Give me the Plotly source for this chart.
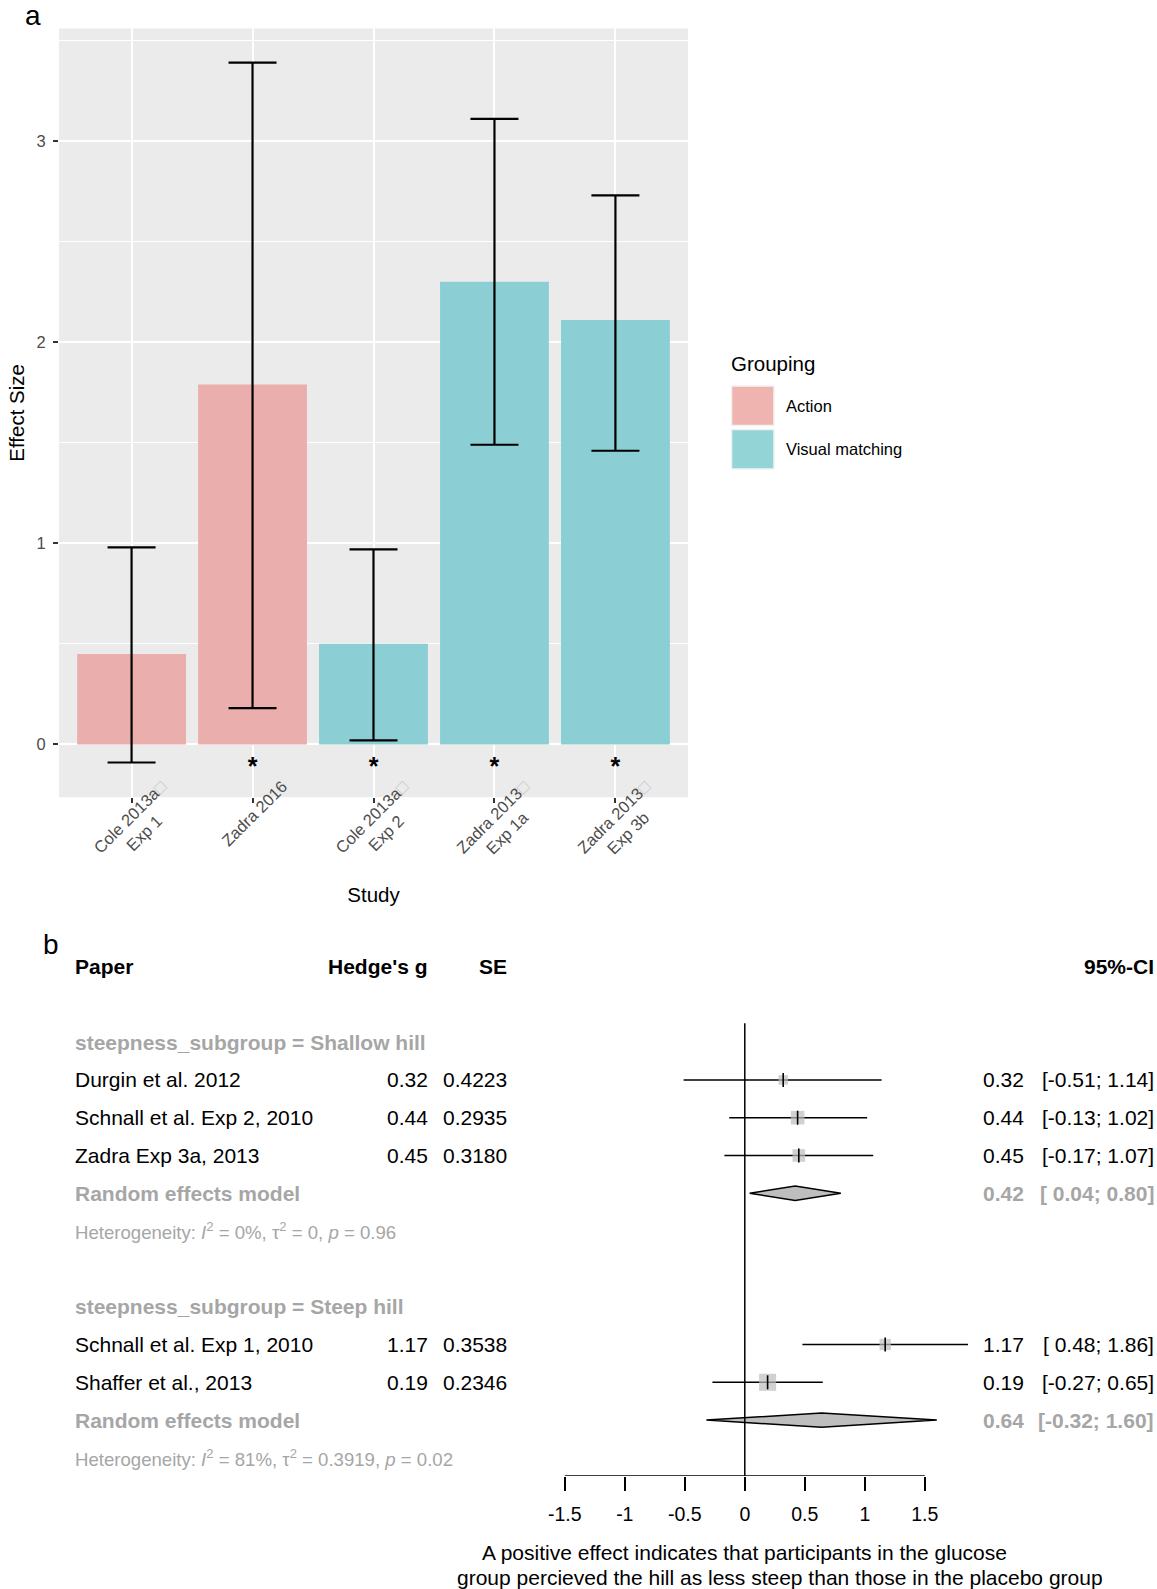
import plotly.graph_objects as go

W, H = 1157, 1589
FONT = "Liberation Sans, Arial, Helvetica, sans-serif"

# ---------------- Panel a data ----------------
study_ids = ["Cole 2013a Exp 1", "Zadra 2016", "Cole 2013a Exp 2", "Zadra 2013 Exp 1a", "Zadra 2013 Exp 3b"]
study_label_lines = [["Cole 2013a\u25a1", "Exp 1"], ["Zadra 2016"], ["Cole 2013a\u25a1", "Exp 2"],
                     ["Zadra 2013\u25a1", "Exp 1a"], ["Zadra 2013\u25a1", "Exp 3b"]]
effect_size = [0.45, 1.79, 0.50, 2.30, 2.11]
effect_lo = [-0.09, 0.18, 0.02, 1.49, 1.46]
effect_hi = [0.98, 3.39, 0.97, 3.11, 2.73]
grouping = ["Action", "Action", "Visual matching", "Visual matching", "Visual matching"]
significant = [False, True, True, True, True]
group_order = ["Action", "Visual matching"]
group_colors = {"Action": "#EAAFAC", "Visual matching": "#8BCFD4"}
legend_colors = {"Action": "#F0B4B0", "Visual matching": "#93D4D7"}

# ---------------- Panel b data ----------------
papers = ["Durgin et al. 2012", "Schnall et al. Exp 2, 2010", "Zadra Exp 3a, 2013",
          "Schnall et al. Exp 1, 2010", "Shaffer et al., 2013"]
subgroup = ["Shallow hill", "Shallow hill", "Shallow hill", "Steep hill", "Steep hill"]
hedges_g = [0.32, 0.44, 0.45, 1.17, 0.19]
se = [0.4223, 0.2935, 0.3180, 0.3538, 0.2346]
ci_lo = [-0.51, -0.13, -0.17, 0.48, -0.27]
ci_hi = [1.14, 1.02, 1.07, 1.86, 0.65]
subgroups = ["Shallow hill", "Steep hill"]
re_est = [0.42, 0.64]
re_lo = [0.04, -0.32]
re_hi = [0.80, 1.60]
het_i2 = ["0%", "81%"]
het_tau2 = ["0", "0.3919"]
het_p = ["0.96", "0.02"]
forest_ticks = [-1.5, -1, -0.5, 0, 0.5, 1, 1.5]
forest_ticktext = ["-1.5", "-1", "-0.5", "0", "0.5", "1", "1.5"]
caption_lines = ["A positive effect indicates that participants in the glucose",
                 "group percieved the hill as less steep than those in the placebo group"]

# ---------------- helpers ----------------
def px_x(p):
    return p / W

def px_y(p):
    return 1 - p / H

# approximate Arial advance widths (per 1000 em) to centre multi-line rotated labels
_AW = {' ': 278, 'E': 667, 'x': 500, 'p': 556, 'a': 556, 'b': 556, 'C': 722, 'o': 556,
       'l': 222, 'e': 556, 'Z': 611, 'd': 556, 'r': 333, '\u25a1': 780}

def _w(s):
    return sum(_AW.get(c, 556) for c in s)

def make_ticklabel(lines):
    if len(lines) == 1:
        return lines[0]
    first = lines[0].replace("\u25a1", "<span style='color:#C8C8C8'>\u25a1</span>")
    out = [first]
    w1 = _w(lines[0])
    for ln in lines[1:]:
        pad = int(round((w1 - _w(ln)) / 2 / 278))
        out.append(ln + "\u00a0" * pad)
    return "<br>".join(out)

fig = go.Figure()

# ---- Panel a bars ----
for g in group_order:
    idx = [i for i, gg in enumerate(grouping) if gg == g]
    fig.add_trace(go.Bar(
        x=[study_ids[i] for i in idx],
        y=[effect_size[i] for i in idx],
        width=0.9,
        marker=dict(color=group_colors[g], line=dict(width=0)),
        error_y=dict(type="data", symmetric=False,
                     array=[effect_hi[i] - effect_size[i] for i in idx],
                     arrayminus=[effect_size[i] - effect_lo[i] for i in idx],
                     color="black", thickness=2.2, width=24),
        name=g, showlegend=False, xaxis="x", yaxis="y",
    ))

sig_x = [s for s, f in zip(study_ids, significant) if f]
fig.add_trace(go.Scatter(
    x=sig_x, y=[-0.12] * len(sig_x), mode="text", text=["<b>*</b>"] * len(sig_x),
    textfont=dict(size=25, color="black", family=FONT), showlegend=False,
    xaxis="x", yaxis="y", hoverinfo="skip"))

# ---- Panel b forest ----
row_header = 0
rows_study = []
rows_re = []
rows_het = []
rows_head = []
r = 2
for k, sg in enumerate(subgroups):
    rows_head.append(r)
    r += 1
    for i, s in enumerate(subgroup):
        if s == sg:
            rows_study.append((i, r))
            r += 1
    rows_re.append(r)
    r += 1
    rows_het.append(r)
    r += 2

ROW0_PX = 966.5
ROW_PX = 37.8
AX_PX = 1476.0
TOP_PX = 929.0
ZERO_PX = 744.8
UNIT_PX = 120.0
X2_L, X2_R = 540.0, 1157.0

def row_of_px(p):
    return (p - ROW0_PX) / ROW_PX

# CI lines
lx, ly = [], []
for i, rr in rows_study:
    lx += [ci_lo[i], ci_hi[i], None]
    ly += [rr, rr, None]
fig.add_trace(go.Scatter(x=lx, y=ly, mode="lines", line=dict(color="black", width=1.5),
                         xaxis="x2", yaxis="y2", showlegend=False, hoverinfo="skip"))
# squares sized by inverse-variance weight
fig.add_trace(go.Scatter(
    x=[hedges_g[i] for i, _ in rows_study], y=[rr for _, rr in rows_study], mode="markers",
    marker=dict(symbol="square", size=[4.0 / se[i] for i, _ in rows_study], color="#BDBDBD",
                line=dict(width=0)),
    xaxis="x2", yaxis="y2", showlegend=False, hoverinfo="skip"))
fig.add_trace(go.Scatter(
    x=[hedges_g[i] for i, _ in rows_study], y=[rr for _, rr in rows_study], mode="markers",
    marker=dict(symbol="line-ns", size=10, line=dict(color="black", width=1.6)),
    xaxis="x2", yaxis="y2", showlegend=False, hoverinfo="skip"))
# diamonds
DH = 0.19
for k, rr in enumerate(rows_re):
    fig.add_trace(go.Scatter(
        x=[re_lo[k], re_est[k], re_hi[k], re_est[k], re_lo[k]],
        y=[rr, rr - DH, rr, rr + DH, rr],
        mode="lines", fill="toself", fillcolor="#BEBEBE",
        line=dict(color="black", width=1.5),
        xaxis="x2", yaxis="y2", showlegend=False, hoverinfo="skip"))

# ---- layout ----
A_L, A_R, A_T, A_B = 59.0, 688.0, 28.4, 797.3
y2_top = row_of_px(TOP_PX)
y2_bot = row_of_px(AX_PX)

fig.update_layout(
    width=W, height=H, margin=dict(l=0, r=0, t=0, b=0),
    paper_bgcolor="white", plot_bgcolor="white",
    font=dict(family=FONT, color="black"),
    barmode="overlay", showlegend=False,
    shapes=[
        dict(type="rect", xref="paper", yref="paper", x0=px_x(A_L), x1=px_x(A_R),
             y0=px_y(A_B), y1=px_y(A_T), fillcolor="#EBEBEB", line=dict(width=0), layer="below"),
    ],
    xaxis=dict(domain=[px_x(A_L), px_x(A_R)], anchor="y", type="category",
               categoryorder="array", categoryarray=study_ids,
               range=[-0.6, len(study_ids) - 0.4],
               tickmode="array", tickvals=study_ids,
               ticktext=[make_ticklabel(l) for l in study_label_lines],
               tickangle=-45, tickfont=dict(size=16.5, color="#4D4D4D", family=FONT),
               ticklabelshift=30, ticklabelstandoff=-33,
               ticks="outside", ticklen=5, tickwidth=1.5, tickcolor="#333333",
               showgrid=True, gridcolor="white", gridwidth=1.6, showline=False, zeroline=False,
               title=dict(text="Study", font=dict(size=20.5, color="black", family=FONT), standoff=16)),
    yaxis=dict(domain=[px_y(A_B), px_y(A_T)], anchor="x",
               range=[-0.263, 3.56], tickmode="array", tickvals=[0, 1, 2, 3],
               tickfont=dict(size=16.5, color="#4D4D4D", family=FONT), ticklabelstandoff=4,
               ticks="outside", ticklen=5, tickwidth=1.5, tickcolor="#333333",
               showgrid=True, gridcolor="white", gridwidth=1.6, zeroline=False, showline=False,
               minor=dict(tickvals=[0.5, 1.5, 2.5, 3.5], showgrid=True, gridcolor="white", gridwidth=0.8, ticks=""),
               title=dict(text="Effect Size", font=dict(size=20.5, color="black", family=FONT), standoff=6)),
    xaxis2=dict(domain=[px_x(X2_L), px_x(X2_R)], anchor="y2",
                range=[(X2_L - ZERO_PX) / UNIT_PX, (X2_R - ZERO_PX) / UNIT_PX],
                tickmode="array", tickvals=forest_ticks, ticktext=forest_ticktext,
                ticks="outside", ticklen=14, tickwidth=1.5, tickcolor="black",
                tickfont=dict(size=19.5, color="black", family=FONT), ticklabelstandoff=7,
                showgrid=False, zeroline=False, showline=False),
    yaxis2=dict(domain=[px_y(AX_PX), px_y(TOP_PX)], anchor="x2",
                range=[y2_bot, y2_top], showticklabels=False, ticks="",
                showgrid=False, zeroline=False, showline=False),
)

# forest axis line and zero line
fig.add_shape(type="line", xref="x2", yref="y2", x0=min(forest_ticks), x1=max(forest_ticks),
              y0=y2_bot, y1=y2_bot, line=dict(color="black", width=1.5))
fig.add_shape(type="line", xref="x2", yref="y2", x0=0, x1=0, y0=1.5, y1=y2_bot,
              line=dict(color="black", width=1.5))

# ---- legend (custom, ggplot-style large keys) ----
LEG_X0, LEG_X1 = 731.5, 774.0
key_tops = [385.0, 428.5]
KEY_H = 41.5
fig.add_annotation(xref="paper", yref="paper", x=px_x(729), y=px_y(363), text="Grouping",
                   showarrow=False, xanchor="left", yanchor="middle",
                   font=dict(size=20.5, color="black", family=FONT))
for g, top in zip(group_order, key_tops):
    fig.add_shape(type="rect", xref="paper", yref="paper", x0=px_x(LEG_X0), x1=px_x(LEG_X1),
                  y0=px_y(top + KEY_H - 1), y1=px_y(top + 1), fillcolor=legend_colors[g],
                  line=dict(color="#F2F2F2", width=1.5))
    fig.add_annotation(xref="paper", yref="paper", x=px_x(784), y=px_y(top + KEY_H / 2),
                       text=g, showarrow=False, xanchor="left", yanchor="middle",
                       font=dict(size=16.5, color="black", family=FONT))

# panel labels
fig.add_annotation(xref="paper", yref="paper", x=px_x(33), y=px_y(16), text="a", showarrow=False,
                   xanchor="center", yanchor="middle", font=dict(size=28, color="black", family=FONT))
fig.add_annotation(xref="paper", yref="paper", x=px_x(51), y=px_y(944), text="b", showarrow=False,
                   xanchor="center", yanchor="middle", font=dict(size=28, color="black", family=FONT))

# ---- forest table text ----
TXT = 21
GREY = "#A6A6A6"
X_NAME, X_G, X_SE, X_EST, X_CI = 73, 430, 509, 1026, 1156

def txt(x, row, s, anchor="left", size=TXT, color="black", bold=False):
    if bold:
        s = "<b>" + s + "</b>"
    fig.add_annotation(xref="paper", yref="y2", x=px_x(x), y=row, text=s, showarrow=False,
                       xanchor=anchor, yanchor="middle", font=dict(size=size, color=color, family=FONT))

txt(X_NAME, row_header, "Paper", bold=True)
txt(X_G, row_header, "Hedge's g", anchor="right", bold=True)
txt(X_SE, row_header, "SE", anchor="right", bold=True)
txt(X_CI, row_header, "95%-CI", anchor="right", bold=True)

for k, sg in enumerate(subgroups):
    txt(X_NAME, rows_head[k], "steepness_subgroup = " + sg, color=GREY, bold=True)
    txt(X_NAME, rows_re[k], "Random effects model", color=GREY, bold=True)
    txt(X_EST, rows_re[k], f"{re_est[k]:.2f}", anchor="right", color=GREY, bold=True)
    txt(X_CI, rows_re[k], f"[{re_lo[k]:5.2f}; {re_hi[k]:.2f}]", anchor="right", color=GREY, bold=True)
    het = (f"Heterogeneity: <i>I</i><sup>2</sup> = {het_i2[k]}, \u03c4<sup>2</sup> = {het_tau2[k]}, "
           f"<i>p</i> = {het_p[k]}")
    txt(X_NAME, rows_het[k], het, size=18.6, color=GREY)

for i, rr in rows_study:
    txt(X_NAME, rr, papers[i])
    txt(X_G, rr, f"{hedges_g[i]:.2f}", anchor="right")
    txt(X_SE, rr, f"{se[i]:.4f}", anchor="right")
    txt(X_EST, rr, f"{hedges_g[i]:.2f}", anchor="right")
    txt(X_CI, rr, f"[{ci_lo[i]:5.2f}; {ci_hi[i]:.2f}]", anchor="right")

# caption
for line, cx, cy in zip(caption_lines, [744.6, 779.6], [1552, 1577]):
    fig.add_annotation(xref="paper", yref="paper", x=px_x(cx), y=px_y(cy), text=line,
                       showarrow=False, xanchor="center", yanchor="middle",
                       font=dict(size=21, color="black", family=FONT))

fig.write_html("out.html", config={"displayModeBar": False},
               post_script="document.body.style.margin='0px';")
